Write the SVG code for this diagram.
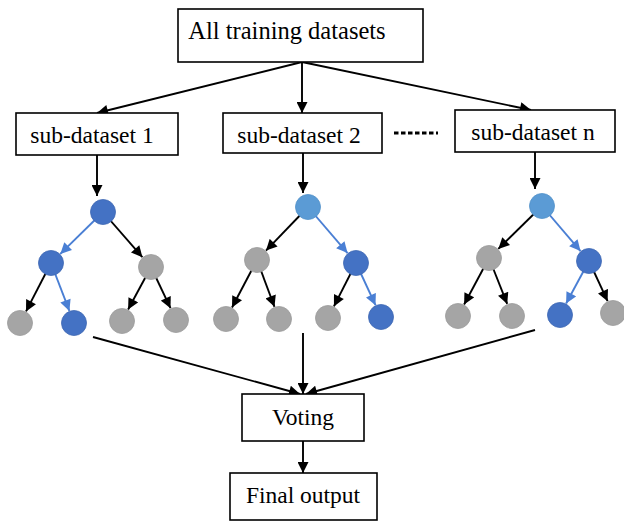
<svg xmlns="http://www.w3.org/2000/svg" width="624" height="522" viewBox="0 0 624 522">
<style>
.box{fill:#fff;stroke:#000;stroke-width:1.6}
.lbl{font-family:"Liberation Serif","Times New Roman",serif;font-size:23.5px;fill:#000;text-anchor:middle}
.k{stroke:#000;stroke-width:1.9;fill:none}
.b{stroke:#4a7fd4;stroke-width:1.9;fill:none}
.dots{stroke:#000;stroke-width:3;fill:none;stroke-dasharray:4.5,2.5}
.dk{fill:#4472c4;stroke:#3d67b3;stroke-width:0.8}
.lt{fill:#5b9bd5;stroke:#5190c9;stroke-width:0.8}
.gr{fill:#a5a5a5;stroke:#9a9a9a;stroke-width:0.8}
</style>
<defs>
<marker id="ak" viewBox="0 0 10 10" refX="10" refY="5" markerWidth="12" markerHeight="11" orient="auto" markerUnits="userSpaceOnUse">
<path d="M0,0 L10,5 L0,10 z" fill="#000"/>
</marker>
<marker id="ab" viewBox="0 0 10 10" refX="10" refY="5" markerWidth="12" markerHeight="11" orient="auto" markerUnits="userSpaceOnUse">
<path d="M0,0 L10,5 L0,10 z" fill="#4a7fd4"/>
</marker>
<marker id="am" viewBox="0 0 10 10" refX="10" refY="5" markerWidth="12" markerHeight="11" orient="auto" markerUnits="userSpaceOnUse">
<path d="M0,0 L10,5 L0,10 z" fill="#000"/>
</marker>
</defs>
<g id="connectors">
<line class="k" x1="302" y1="62" x2="97" y2="113" marker-end="url(#am)"/>
<line class="k" x1="302" y1="62" x2="302" y2="113" marker-end="url(#am)"/>
<line class="k" x1="302" y1="62" x2="531" y2="110" marker-end="url(#am)"/>
<line class="k" x1="97" y1="155" x2="97" y2="196" marker-end="url(#am)"/>
<line class="k" x1="303" y1="153" x2="303" y2="193" marker-end="url(#am)"/>
<line class="k" x1="535" y1="152" x2="535" y2="189" marker-end="url(#am)"/>
<line class="k" x1="93" y1="337" x2="300" y2="394" marker-end="url(#am)"/>
<line class="k" x1="303" y1="333" x2="303" y2="394" marker-end="url(#am)"/>
<line class="k" x1="535" y1="330" x2="306" y2="394" marker-end="url(#am)"/>
<line class="k" x1="303" y1="441" x2="303" y2="473" marker-end="url(#am)"/>
<line class="dots" x1="394" y1="133" x2="438" y2="133"/>
<!-- tree 1 -->
<line class="b" x1="103" y1="212" x2="60.3" y2="253.9" marker-end="url(#ab)"/>
<line class="k" x1="103" y1="212" x2="142.4" y2="257.2" marker-end="url(#ak)"/>
<line class="k" x1="51" y1="263" x2="26" y2="311.4" marker-end="url(#ak)"/>
<line class="b" x1="51" y1="263" x2="69.4" y2="310.9" marker-end="url(#ab)"/>
<line class="k" x1="151" y1="267" x2="128.1" y2="309.5" marker-end="url(#ak)"/>
<line class="k" x1="151" y1="267" x2="170.5" y2="308.2" marker-end="url(#ak)"/>
<!-- tree 2 -->
<line class="k" x1="308" y1="207" x2="266" y2="250.6" marker-end="url(#ak)"/>
<line class="b" x1="308" y1="207" x2="347.5" y2="253.1" marker-end="url(#ab)"/>
<line class="k" x1="257" y1="260" x2="232" y2="307.5" marker-end="url(#ak)"/>
<line class="k" x1="257" y1="260" x2="274.5" y2="306.8" marker-end="url(#ak)"/>
<line class="k" x1="356" y1="263" x2="333.9" y2="306.4" marker-end="url(#ak)"/>
<line class="b" x1="356" y1="263" x2="375.5" y2="305.2" marker-end="url(#ab)"/>
<!-- tree 3 -->
<line class="k" x1="542" y1="206" x2="498.3" y2="248.9" marker-end="url(#ak)"/>
<line class="b" x1="542" y1="206" x2="580.5" y2="251.1" marker-end="url(#ab)"/>
<line class="k" x1="489" y1="258" x2="464.1" y2="304.5" marker-end="url(#ak)"/>
<line class="k" x1="489" y1="258" x2="507.2" y2="303.9" marker-end="url(#ak)"/>
<line class="b" x1="589" y1="261" x2="566.1" y2="303.5" marker-end="url(#ab)"/>
<line class="k" x1="589" y1="261" x2="607.6" y2="301.2" marker-end="url(#ak)"/>
</g>
<g id="all-training">
<rect class="box" x="178" y="9" width="245" height="53"/>
<text class="lbl" x="287" y="39" style="font-size:24.5px">All training datasets</text>
</g>
<g id="sub1">
<rect class="box" x="16" y="113" width="162" height="42"/>
<text class="lbl" x="92" y="143">sub-dataset 1</text>
</g>
<g id="sub2">
<rect class="box" x="223" y="113" width="159" height="40"/>
<text class="lbl" x="299" y="143">sub-dataset 2</text>
</g>
<g id="subn">
<rect class="box" x="455" y="110" width="160" height="42"/>
<text class="lbl" x="533" y="140">sub-dataset n</text>
</g>
<g id="tree1">
<circle class="dk" cx="103" cy="212" r="12.5"/>
<circle class="dk" cx="51" cy="263" r="12.5"/>
<circle class="gr" cx="151" cy="267" r="12.5"/>
<circle class="gr" cx="20" cy="323" r="12.5"/>
<circle class="dk" cx="74" cy="323" r="12.5"/>
<circle class="gr" cx="122" cy="321" r="12.5"/>
<circle class="gr" cx="176" cy="320" r="12.5"/>
</g>
<g id="tree2">
<circle class="lt" cx="308" cy="207" r="12.5"/>
<circle class="gr" cx="257" cy="260" r="12.5"/>
<circle class="dk" cx="356" cy="263" r="12.5"/>
<circle class="gr" cx="226" cy="319" r="12.5"/>
<circle class="gr" cx="279" cy="319" r="12.5"/>
<circle class="gr" cx="328" cy="318" r="12.5"/>
<circle class="dk" cx="381" cy="317" r="12.5"/>
</g>
<g id="tree3">
<circle class="lt" cx="542" cy="206" r="12.5"/>
<circle class="gr" cx="489" cy="258" r="12.5"/>
<circle class="dk" cx="589" cy="261" r="12.5"/>
<circle class="gr" cx="458" cy="316" r="12.5"/>
<circle class="gr" cx="512" cy="316" r="12.5"/>
<circle class="dk" cx="560" cy="315" r="12.5"/>
<circle class="gr" cx="613" cy="313" r="12.5"/>
</g>
<g id="voting">
<rect class="box" x="242" y="394" width="122" height="47"/>
<text class="lbl" x="303" y="425">Voting</text>
</g>
<g id="final">
<rect class="box" x="230" y="473" width="147" height="47"/>
<text class="lbl" x="303" y="503">Final output</text>
</g>
</svg>
